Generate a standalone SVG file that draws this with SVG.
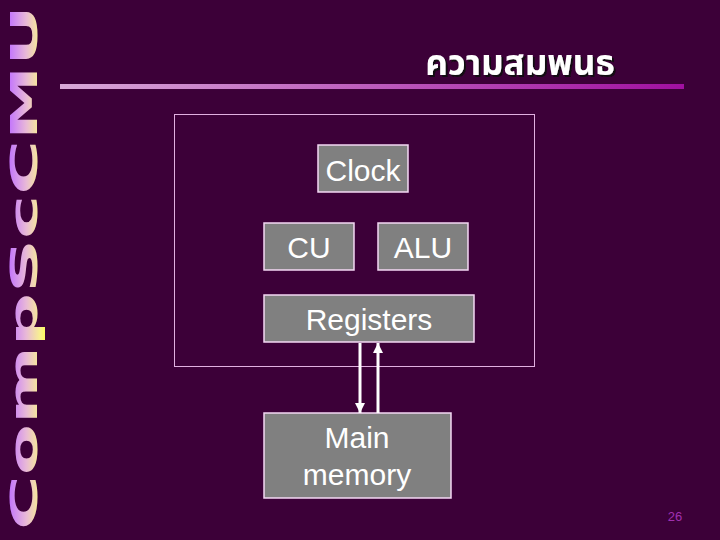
<svg xmlns="http://www.w3.org/2000/svg" width="720" height="540" viewBox="0 0 720 540">
<style>
.box{fill:#808080;stroke:#f4d8f4;stroke-width:1.5}
.lbl{font-family:"Liberation Sans",Arial,sans-serif;font-size:30px;fill:#ffffff;text-anchor:middle}
.conn{stroke:#ffffff;stroke-width:3;fill:none}
</style>
<defs>
<linearGradient id="side" gradientUnits="userSpaceOnUse" x1="0" y1="-29" x2="0" y2="11">
<stop offset="0" stop-color="#c070ff"/>
<stop offset="0.45" stop-color="#e8b8d8"/>
<stop offset="0.8" stop-color="#f8f090"/>
<stop offset="1" stop-color="#ffff40"/>
</linearGradient>
<linearGradient id="bar" x1="0" y1="0" x2="1" y2="0">
<stop offset="0" stop-color="#d8a8d8"/>
<stop offset="1" stop-color="#a010a0"/>
</linearGradient>
<filter id="shadow" x="-10%" y="-20%" width="120%" height="150%">
<feDropShadow dx="2" dy="2" stdDeviation="0.5" flood-color="#101010" flood-opacity="0.9"/>
</filter>
<marker id="ah" markerWidth="10" markerHeight="10" refX="10" refY="5" orient="auto" markerUnits="userSpaceOnUse" viewBox="0 0 10 10">
<path d="M0,0 L10,5 L0,10 Z" fill="#ffffff"/>
</marker>
</defs>
<rect x="0" y="0" width="720" height="540" fill="#3c0038"/>
<g id="sidebar" transform="translate(37,530) rotate(-90)">
<text x="0" y="0" textLength="525" lengthAdjust="spacingAndGlyphs" font-family="'DejaVu Sans',sans-serif" font-weight="bold" font-size="38" fill="url(#side)">CompScCMU</text>
</g>
<g id="title">
<text x="520" y="75" text-anchor="middle" font-family="'Noto Sans Thai','Noto Sans','DejaVu Sans',sans-serif" font-weight="bold" font-size="35" fill="#ffffff" filter="url(#shadow)">ความสมพนธ</text>
</g>
<rect x="60" y="84" width="624" height="5" fill="url(#bar)"/>
<g id="cpu">
<rect x="174.5" y="114.5" width="360" height="252" fill="none" stroke="#e0b0e0" stroke-width="1"/>
</g>
<g id="clock">
<rect class="box" x="318" y="145" width="90" height="47"/>
<text class="lbl" x="363" y="181">Clock</text>
</g>
<g id="cu">
<rect class="box" x="264" y="223" width="90" height="47"/>
<text class="lbl" x="309" y="258">CU</text>
</g>
<g id="alu">
<rect class="box" x="378" y="223" width="90" height="47"/>
<text class="lbl" x="423" y="258">ALU</text>
</g>
<g id="registers">
<rect class="box" x="264" y="295" width="210" height="47"/>
<text class="lbl" x="369" y="330">Registers</text>
</g>
<g id="memory">
<rect class="box" x="264" y="413" width="187" height="85"/>
<text class="lbl" x="357" y="448">Main</text>
<text class="lbl" x="357" y="485">memory</text>
</g>
<g id="connectors">
<line class="conn" x1="360" y1="343" x2="360" y2="413" marker-end="url(#ah)"/>
<line class="conn" x1="378" y1="413" x2="378" y2="343" marker-end="url(#ah)"/>
</g>
<text x="675" y="521" text-anchor="middle" font-family="'Liberation Sans',Arial,sans-serif" font-size="13" fill="#a030b0">26</text>
</svg>
